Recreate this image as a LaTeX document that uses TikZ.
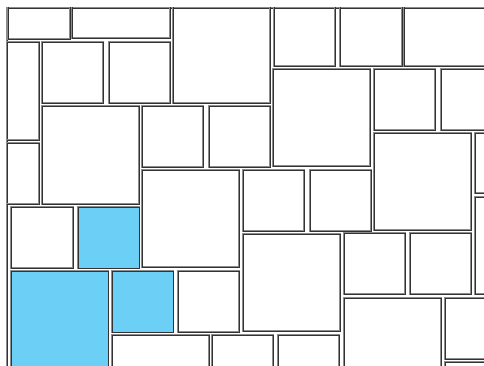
\documentclass[tikz,border=0pt]{standalone}
\usepackage{xcolor}
\usepackage{tikz}
\definecolor{skyfill}{RGB}{108,207,245}
\tikzset{
  tile/.style={draw=black!80, line width=0.7pt, preaction={draw=black!45, line width=1.8pt}},
  picked/.style={tile, fill=skyfill}
}

\begin{document}
\begin{tikzpicture}[x=1pt, y=-1pt]
    \useasboundingbox (0,0) rectangle (484,366);
    \draw[tile] (7,366) -- (7,8) -- (484,8);

    \begin{scope}
    \clip (7,8) rectangle (484,366);
    \draw[tile] (8,-22) rectangle (70,39);
    \draw[tile] (72,-60) rectangle (170,38);
    \draw[tile] (173,6) rectangle (270,103);
    \draw[tile] (274,5) rectangle (335,66);
    \draw[tile] (340,5) rectangle (402,66);
    \draw[tile] (404,-31) rectangle (501,66);

    \draw[tile] (-58,42) rectangle (39,140);
    \draw[tile] (42,42) rectangle (103,103);
    \draw[tile] (109,42) rectangle (170,103);
    \draw[tile] (273,69) rectangle (370,166);
    \draw[tile] (374,69) rectangle (435,130);
    \draw[tile] (441,69) rectangle (502,130);

    \draw[tile] (-22,143) rectangle (39,204);
    \draw[tile] (42,106) rectangle (139,204);
    \draw[tile] (142,106) rectangle (203,167);
    \draw[tile] (209,106) rectangle (270,167);
    \draw[tile] (374,133) rectangle (471,230);
    \draw[tile] (475,133) rectangle (536,193);
    \draw[tile] (475,197) rectangle (572,294);

    \draw[tile] (142,170) rectangle (239,267);
    \draw[tile] (243,170) rectangle (304,231);
    \draw[tile] (310,170) rectangle (371,231);

    \draw[tile] (11,207) rectangle (73,268);
    \draw[picked] (78,207) rectangle (139,268);
    \draw[tile] (243,234) rectangle (340,331);
    \draw[tile] (344,233) rectangle (405,294);
    \draw[tile] (410,233) rectangle (471,294);

    \draw[picked] (11,271) rectangle (108,368);
    \draw[picked] (112,271) rectangle (173,332);
    \draw[tile] (178,271) rectangle (239,332);

    \draw[tile] (344,298) rectangle (441,395);
    \draw[tile] (445,298) rectangle (506,359);
    \draw[tile] (445,362) rectangle (542,459);

    \draw[tile] (112,335) rectangle (209,432);
    \draw[tile] (212,335) rectangle (273,396);
    \draw[tile] (278,335) rectangle (339,396);
    \end{scope}
\end{tikzpicture}
\end{document}
